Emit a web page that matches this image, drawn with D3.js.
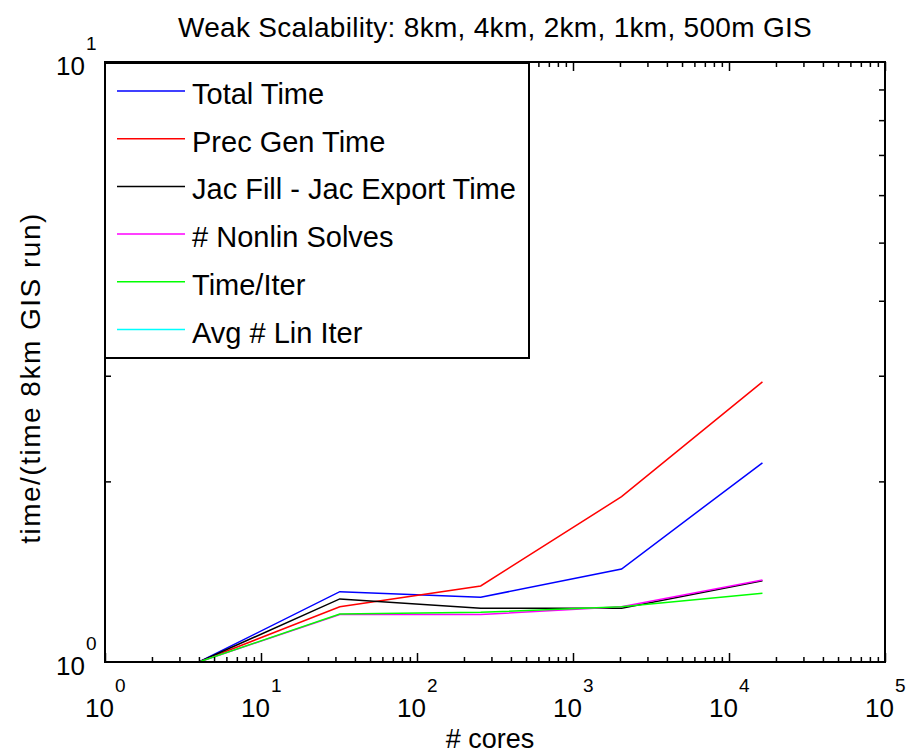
<!DOCTYPE html>
<html>
<head>
<meta charset="utf-8">
<script src="https://cdn.jsdelivr.net/npm/d3@7"></script>
<style>
  body { margin: 0; background: #fff; }
  svg { display: block; font-family: "Liberation Sans", Arial, Helvetica, sans-serif; }
</style>
</head>
<body>
<svg id="chart"></svg>
<script>
// cores per run (8km, 4km, 2km, 1km, 500m)
const cores = [4, 32, 256, 2048, 16384];

// normalised by the 8km GIS run
const totalTime    = [1.0, 1.310, 1.282, 1.429, 2.148];
const precGenTime  = [1.0, 1.236, 1.339, 1.886, 2.930];
const jacFillTime  = [1.0, 1.274, 1.229, 1.229, 1.366];
const nonlinSolves = [1.0, 1.200, 1.200, 1.236, 1.370];
const timePerIter  = [1.0, 1.202, 1.210, 1.236, 1.302];
const avgLinIter   = [1.0, 0.930, 0.900, 0.920, 1.000];

const seriesNames = ["Total Time", "Prec Gen Time", "Jac Fill - Jac Export Time",
  "# Nonlin Solves", "Time/Iter", "Avg # Lin Iter"];
const seriesColours = ["#0000ff", "#ff0000", "#000000", "#ff00ff", "#00ff00", "#00ffff"];

const xDecades = [0, 1, 2, 3, 4, 5];
const yDecades = [0, 1];

const series = [totalTime, precGenTime, jacFillTime, nonlinSolves, timePerIter, avgLinIter]
  .map((vals, i) => ({
    name: seriesNames[i],
    colour: seriesColours[i],
    points: vals.map((v, j) => ({ x: cores[j], y: v }))
  }));

const width = 906, height = 756;
const margin = { top: 62, right: 21, bottom: 94, left: 105 };
const innerW = width - margin.left - margin.right;
const innerH = height - margin.top - margin.bottom;

const svg = d3.select('#chart')
  .attr('width', width)
  .attr('height', height);

const x = d3.scaleLog().domain([1, 1e5]).range([margin.left, margin.left + innerW]);
const y = d3.scaleLog().domain([1, 10]).range([margin.top + innerH, margin.top]);

// minor tick positions 2..9 in every decade
const xMinor = [];
xDecades.slice(0, -1).forEach(d => {
  for (let k = 2; k <= 9; k++) xMinor.push(k * Math.pow(10, d));
});
const xMajor = xDecades.map(d => Math.pow(10, d));
const yMinor = d3.range(2, 10);

svg.append('defs').append('clipPath')
  .attr('id', 'plot-clip')
  .append('rect')
  .attr('x', margin.left)
  .attr('y', margin.top)
  .attr('width', innerW)
  .attr('height', innerH);

// data lines
const line = d3.line()
  .x(d => x(d.x))
  .y(d => y(d.y));

svg.append('g')
  .attr('clip-path', 'url(#plot-clip)')
  .selectAll('.series')
  .data(series)
  .join('path')
  .attr('class', 'series')
  .attr('fill', 'none')
  .attr('stroke', d => d.colour)
  .attr('stroke-width', 1.5)
  .attr('d', d => line(d.points));

// ticks on all four sides (box on)
function tickAxis(axis, transform) {
  const g = svg.append('g')
    .attr('transform', transform)
    .call(axis);
  g.select('.domain').remove();
  g.selectAll('.tick line').attr('stroke', '#000').attr('stroke-width', 1.5);
  return g;
}

const bottomY = margin.top + innerH;
const rightX = margin.left + innerW;

tickAxis(d3.axisBottom(x).tickValues(xMinor).tickSize(-5).tickFormat(''), `translate(0,${bottomY})`);
tickAxis(d3.axisBottom(x).tickValues(xMajor).tickSize(-9).tickFormat(''), `translate(0,${bottomY})`);
tickAxis(d3.axisTop(x).tickValues(xMinor).tickSize(-5).tickFormat(''), `translate(0,${margin.top})`);
tickAxis(d3.axisTop(x).tickValues(xMajor).tickSize(-9).tickFormat(''), `translate(0,${margin.top})`);
tickAxis(d3.axisLeft(y).tickValues(yMinor).tickSize(-6).tickFormat(''), `translate(${margin.left},0)`);
tickAxis(d3.axisRight(y).tickValues(yMinor).tickSize(-6).tickFormat(''), `translate(${rightX},0)`);

// axes box
svg.append('rect')
  .attr('x', margin.left)
  .attr('y', margin.top)
  .attr('width', innerW)
  .attr('height', innerH)
  .attr('fill', 'none')
  .attr('stroke', '#000')
  .attr('stroke-width', 2);

// tick labels 10^n
const xLabels = svg.append('g').selectAll('g')
  .data(xDecades)
  .join('g')
  .attr('transform', d => `translate(${x(Math.pow(10, d))},0)`);
xLabels.append('text')
  .attr('x', 9)
  .attr('y', bottomY + 55)
  .attr('text-anchor', 'end')
  .attr('font-size', 26)
  .text('10');
xLabels.append('text')
  .attr('x', 10)
  .attr('y', bottomY + 30)
  .attr('font-size', 19)
  .text(d => d);

const yLabels = svg.append('g').selectAll('g')
  .data(yDecades)
  .join('g')
  .attr('transform', d => `translate(${margin.left},${y(Math.pow(10, d))})`);
yLabels.append('text')
  .attr('x', -20)
  .attr('y', 13)
  .attr('text-anchor', 'end')
  .attr('font-size', 26)
  .text('10');
yLabels.append('text')
  .attr('x', -19)
  .attr('y', -12)
  .attr('font-size', 19)
  .text(d => d);

// titles
svg.append('text')
  .attr('x', (margin.left + rightX) / 2)
  .attr('y', 37)
  .attr('text-anchor', 'middle')
  .attr('font-size', 28)
  .attr('letter-spacing', 0.3)
  .text('Weak Scalability: 8km, 4km, 2km, 1km, 500m GIS');

svg.append('text')
  .attr('x', 490)
  .attr('y', 748)
  .attr('text-anchor', 'middle')
  .attr('font-size', 27)
  .text('# cores');

svg.append('text')
  .attr('transform', `translate(40,${378}) rotate(-90)`)
  .attr('text-anchor', 'middle')
  .attr('font-size', 28)
  .attr('letter-spacing', 1.5)
  .text('time/(time 8km GIS run)');

// legend
const legend = svg.append('g')
  .attr('transform', `translate(${margin.left},${margin.top + 1})`);
legend.append('rect')
  .attr('width', 424)
  .attr('height', 295)
  .attr('fill', '#fff')
  .attr('stroke', '#000')
  .attr('stroke-width', 2);

const rows = legend.selectAll('.legend-row')
  .data(series)
  .join('g')
  .attr('class', 'legend-row')
  .attr('transform', (d, i) => `translate(0,${28 + i * 47.7})`);
rows.append('line')
  .attr('x1', 12)
  .attr('x2', 80)
  .attr('stroke', d => d.colour)
  .attr('stroke-width', 1.5);
rows.append('text')
  .attr('x', 87)
  .attr('y', 13)
  .attr('font-size', 29)
  .text(d => d.name);
</script>
</body>
</html>
